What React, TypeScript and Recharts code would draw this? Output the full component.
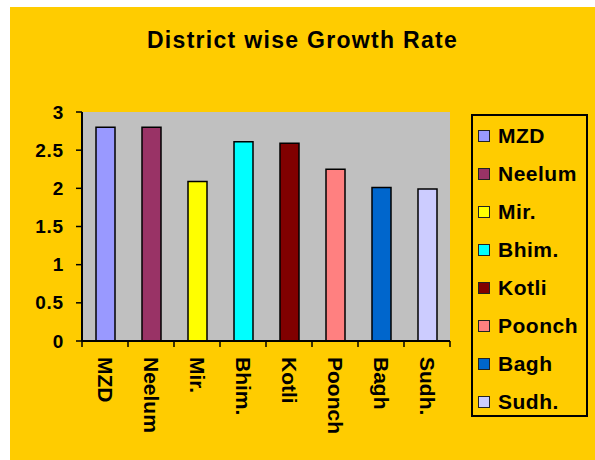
import { BarChart, Bar, XAxis, YAxis, CartesianGrid, Cell } from "recharts";

const districts = ["MZD", "Neelum", "Mir.", "Bhim.", "Kotli", "Poonch", "Bagh", "Sudh."];
const growth = [2.8, 2.8, 2.09, 2.61, 2.59, 2.25, 2.01, 1.99];
const colors = ["#9999FF", "#993366", "#FFFF00", "#00FFFF", "#800000", "#FF8080", "#0066CC", "#CCCCFF"];
const yTicks = [0, 0.5, 1, 1.5, 2, 2.5, 3];

const data = districts.map((name, i) => ({ name, rate: growth[i] }));

const FONT = '"Liberation Sans", Arial, sans-serif';
const lastName = districts[districts.length - 1];

function DistrictTick(props: any) {
  const { x, y, payload } = props;
  const half = payload?.offset ?? 23;
  return (
    <g>
      <line x1={x - half} x2={x - half} y1={y - 6} y2={y} stroke="#000" strokeWidth={1.5} />
      {payload.value === lastName && (
        <line x1={x + half} x2={x + half} y1={y - 6} y2={y} stroke="#000" strokeWidth={1.5} />
      )}
      <text
        transform={`translate(${x},${y + 10}) rotate(90)`}
        textAnchor="start"
        dominantBaseline="central"
        fontFamily={FONT}
        fontWeight="bold"
        fontSize={21}
        fill="#000"
      >
        {payload.value}
      </text>
    </g>
  );
}

// label sits ~12px left of the tick line end
function ValueTick(props: any) {
  const { x, y, payload } = props;
  return (
    <text
      x={x - 12}
      y={y}
      textAnchor="end"
      dominantBaseline="central"
      fontFamily={FONT}
      fontWeight="bold"
      fontSize={19}
      letterSpacing={0.8}
      fill="#000"
    >
      {payload.value}
    </text>
  );
}

function Legend() {
  return (
    <div
      style={{
        position: "absolute",
        left: 461,
        top: 107,
        width: 113,
        height: 299,
        border: "2px solid #000",
        fontFamily: FONT,
        fontWeight: "bold",
        fontSize: 21,
        letterSpacing: 0.5,
      }}
    >
      {districts.map((d, i) => (
        <div
          key={d}
          style={{
            position: "absolute",
            left: 5,
            top: 3 + i * 38,
            height: 34,
            display: "flex",
            alignItems: "center",
          }}
        >
          <span
            style={{
              display: "inline-block",
              width: 10,
              height: 10,
              background: colors[i],
              border: "1.5px solid #222",
              marginRight: 8,
            }}
          />
          <span>{d}</span>
        </div>
      ))}
    </div>
  );
}

export default function App() {
  return (
    <div
      style={{
        position: "absolute",
        left: 10,
        top: 7,
        width: 585,
        height: 453,
        background: "#FFCC00",
      }}
    >
      <div
        style={{
          position: "absolute",
          left: 0,
          top: 22,
          width: 585,
          textAlign: "center",
          fontFamily: FONT,
          fontWeight: "bold",
          fontSize: 23,
          lineHeight: "23px",
          letterSpacing: 1.3,
        }}
      >
        District wise Growth Rate
      </div>
      <div style={{ position: "absolute", left: 0, top: 0 }}>
        <BarChart
          width={585}
          height={453}
          data={data}
          margin={{ top: 105, right: 145, bottom: 19, left: 22 }}
        >
          <CartesianGrid fill="#C0C0C0" horizontal={false} vertical={false} />
          <XAxis
            xAxisId="top"
            orientation="top"
            dataKey="name"
            height={0}
            tick={false}
            tickLine={false}
            axisLine={{ stroke: "#808080", strokeWidth: 2 }}
          />
          <YAxis
            yAxisId="right"
            orientation="right"
            domain={[0, 3]}
            width={0}
            tick={false}
            tickLine={false}
            axisLine={{ stroke: "#808080", strokeWidth: 2 }}
          />
          <XAxis
            dataKey="name"
            height={100}
            tickSize={6}
            tickMargin={0}
            tickLine={false}
            axisLine={{ stroke: "#000", strokeWidth: 2 }}
            tick={<DistrictTick />}
            interval={0}
          />
          <YAxis
            domain={[0, 3]}
            ticks={yTicks}
            width={50}
            tickSize={6}
            tickMargin={0}
            tickLine={{ stroke: "#000", strokeWidth: 1.5 }}
            axisLine={{ stroke: "#000", strokeWidth: 2 }}
            tick={<ValueTick />}
          />
          <Bar dataKey="rate" barSize={19} stroke="#000" strokeWidth={1.5} isAnimationActive={false}>
            {data.map((d, i) => (
              <Cell key={d.name} fill={colors[i]} />
            ))}
          </Bar>
        </BarChart>
      </div>
      <Legend />
    </div>
  );
}
